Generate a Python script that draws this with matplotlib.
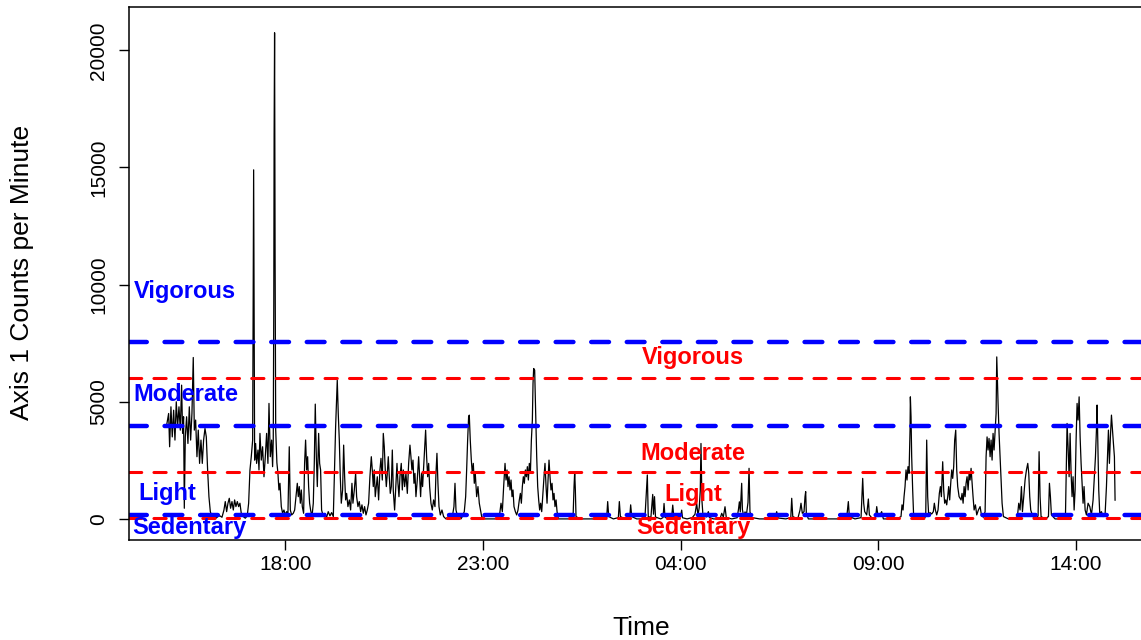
import matplotlib.pyplot as plt

# Axis 1 counts per minute.
# time is minutes after the start of recording (15:00)
minutes = [
    0, 2.6, 4.1, 6.1, 8.1, 10.2, 12.2, 14.2, 16.2, 18.3, 20.3, 22.3, 23.8, 25.3, 26.4, 27.9,
    29.9, 31.9, 34, 36, 38, 40, 41.6, 43.6, 45.6, 47.6, 49.6, 51.7, 53.7, 55.7, 57.8, 59.8,
    61.8, 63.8, 65.9, 68.4, 71.4, 74.5, 77.5, 80.5, 83.6, 86.6, 88.6, 90.7, 92.7, 94.7, 96.7,
    98.8, 100.8, 102.8, 104.8, 106.9, 108.9, 110.9, 112.9, 116, 119, 122, 124.1, 126.1, 128.1,
    130.2, 131.7, 133.2, 134.7, 136.2, 138.3, 139.8, 141.3, 143.3, 145.3, 147.4, 149.4, 151.4,
    153.4, 155, 157, 159, 160.5, 161.5, 162.3, 162.8, 163.5, 164.3, 165.2, 167, 168.6, 170.1,
    171.7, 173.7, 175.7, 177.7, 179.8, 181.8, 183.8, 185.8, 187.4, 189.4, 191.9, 194, 196, 198,
    199.5, 201, 202.6, 204.1, 205.6, 207.6, 209.1, 210.6, 212.2, 213.7, 215.2, 216.7, 218.2,
    220.3, 222.3, 223.8, 225.3, 226.9, 228.4, 230.4, 231.9,
    233.4, 234.9, 237.5, 240, 242.5, 245, 247.6, 250.1, 252.7, 254.7, 256.2, 257.7, 258.7,
    260.2, 261.8, 263.3, 264.8, 266.8, 268.4, 269.9, 271.4, 272.9, 274.9, 277, 279, 281, 282.5,
    284.6, 286.6, 288.1, 290.1, 292.1, 294.2, 296.2, 298.2, 300.2, 302.3, 304.3, 306.3, 308.3,
    310.4, 311.9, 313.4, 314.9, 316.4, 318, 319.5, 321.5, 323.5, 325.1, 327.1, 328.6, 330.1,
    331.6, 333.2, 334.7, 336.2, 337.7, 339.2, 340.8, 342.3, 343.8, 345.8, 347.8, 349.4, 350.9,
    352.4, 353.9, 355.9, 357.5, 359, 361, 363, 365.1, 367.1, 369.1, 370.6, 372.1, 373.7, 375.2,
    376.7, 378.2, 380.2, 382.3, 383.8, 385.3, 386.8, 388.3, 389.9, 391.4, 392.9, 394.4, 396,
    397.5, 399, 401, 403, 405, 407.1, 408.6, 410.1, 411.6, 413.2, 415.2, 417.7, 420.2, 423.8,
    427.3, 430.9, 433.9, 435.9, 437.5, 439, 441.5, 444, 446.6, 449.1, 451.6, 453.7, 455.2,
    456.7, 458.2, 459.2, 460.7, 462.3, 463.8, 465.3, 466.8, 468.3, 470.4, 472.4, 474.4,
    478, 483.1, 490.7, 498.3, 504.9, 507.4, 509.4, 511.4, 513.5, 515, 516.5, 518, 519.5, 521.1,
    522.6, 524.1, 525.6, 527.1, 529.2, 531.2, 533.2, 535.2, 536.8, 538.3, 539.8, 541.3, 542.8,
    544.4, 545.9, 547.4, 548.9, 550.4, 552, 553.5, 555, 556, 557, 558.5, 559.5, 560.6, 561.6,
    563.1, 564.6, 566.1, 567.6, 569.2, 570.7, 572.7, 574.2, 575.8, 577.3, 578.8, 580.3, 581.8,
    583.3, 584.9, 586.4, 587.9, 589.4, 591, 592.5, 594.5, 602.1, 609.7, 616.8, 618.3, 619.3,
    620.3, 621.3, 627.4, 637.5, 647.6, 657.8, 667.9, 669.4, 671, 678, 685.6, 687.1, 688.7,
    695.7, 702.8, 704.3, 705.9, 713.5,
    720, 726, 729.6, 731, 735, 737.8, 739, 740.5, 742, 750, 753.5, 755, 756.5, 762, 766.5,
    768.2, 770, 776, 780, 781.8, 783, 790, 798, 802, 804.6, 806.5, 808.5, 810, 811.1, 812.5,
    814, 817.2, 819, 822.3, 824, 830, 840, 842.6, 845, 847.6, 849.5, 858, 866, 868, 869.4,
    870.8, 872.9, 874, 876, 878, 880, 882.5, 884.1, 885.5, 888, 900, 915, 924, 926.1, 928, 940,
    947.5, 948.9, 950.5, 958,
    961.5, 963, 965, 967.6, 969.1, 970.1, 971.1, 974.2, 981.8, 991.9, 1002, 1012.1, 1022.3,
    1032.4, 1034.9, 1036.4, 1045, 1054.2, 1056.7, 1058.2, 1059.7, 1062.8, 1065.3, 1066.8,
    1071.9, 1076.4, 1078, 1080, 1083, 1085.5, 1088.1, 1098.2, 1108.3, 1114.9, 1116.4, 1118,
    1119.5, 1121, 1122.5, 1124, 1125.5, 1127.1, 1128.6, 1129.1, 1130.1, 1131.1, 1132.6, 1134.1,
    1141.2, 1148.8, 1152.4, 1153.9, 1155.4, 1156.9, 1159, 1161.5, 1164, 1165.5, 1167.1, 1169.1,
    1171.1, 1173.1, 1174.7, 1176.2, 1178.2, 1179.7, 1181.2, 1182.8, 1184.3, 1185.8, 1187.3,
    1188.8, 1190.4, 1191.9, 1193.4, 1194.9, 1196.4, 1198, 1199.5, 1201, 1203.1,
    1206.1, 1207.6, 1209.2, 1210.7, 1212.2, 1213.7, 1215.2, 1216.8, 1218.3, 1219.8, 1221.3,
    1222.8, 1224.3, 1225.9, 1227.9, 1229.9, 1232.4, 1235, 1237, 1240, 1242.6, 1244.1, 1245.6,
    1247.1, 1248.6, 1250.2, 1251.7, 1253.2, 1254.7, 1256.2, 1257.8, 1259.3, 1260.3, 1261.3,
    1262.3, 1263.8, 1265.4, 1266.9, 1268.4, 1270.4, 1278, 1285.6, 1291.7, 1293.7, 1295.7,
    1297.8, 1299.3, 1301.3, 1303.3, 1305.4, 1307.4, 1308.9, 1310.4, 1311.9, 1315, 1320, 1323.1,
    1324.6, 1326.1, 1327.6, 1333.7, 1338.8, 1340.3, 1341.8, 1343.3, 1348.9, 1356.5, 1364.6,
    1366.1, 1367.1, 1368.6, 1370.2, 1371.7, 1373.2, 1374.7, 1376.2, 1377.8, 1379.3, 1380.8,
    1382.3, 1383.8, 1385.4, 1386.9, 1388.4, 1389.9, 1391.4, 1392.9, 1394.5, 1396.5, 1399,
    1401.6, 1404.1, 1406.6, 1408.6, 1410.2, 1411.7, 1412.7, 1413.7, 1415.2, 1416.7, 1419.3,
    1421.8, 1424.8, 1426.9, 1428.4, 1429.9, 1431.4, 1432.9, 1434.5, 1436, 1437.5, 1439, 1440,
]
counts = [
    4075, 4500, 3080, 4785, 3500, 4640, 3365, 5000, 3930, 4785, 3790, 5710, 3650, 4360, 455, 3500,
    4360, 3220, 4785, 3365, 4500, 6890, 3790, 4220, 2655, 3790, 2370, 3365, 2370, 3365, 3860, 3500,
    2090, 950, 310, 100, 170, 30, 100, 130, 70, 380, 740, 310, 670, 880, 455,
    740, 380, 810, 525, 740, 525, 670, 240, 100, 30, 130, 670, 2090, 2655,
    3365, 14900, 2510, 3220, 2370, 2940, 2090, 3650, 2510, 3080, 1800, 2655, 3650,
    2370, 4930, 2655, 3365, 2230, 3400, 9200, 16400, 20750, 11000, 3800, 2400, 1945, 1235,
    1520, 525, 240, 380, 170, 310, 240, 3080, 380, 170, 240, 380, 950, 1520,
    950, 1380, 670, 1235, 525, 240, 2370, 3365, 2090, 2655, 1380, 670, 380,
    100, 670, 2370, 4900, 2655, 1380, 3650, 2370,
    2090, 380, 100, 240, 70, 310, 130, 270, 100, 2370, 3930, 5210, 5920,
    4500, 3365, 1800, 670, 1235, 3150, 1800, 810, 1090, 525, 810, 380, 1520, 670,
    1235, 1945, 950, 525, 740, 310, 600, 240, 525, 170, 380, 670, 1800,
    2655, 2090, 1380, 2090, 950, 1380, 1800, 810, 2090, 2585, 1660, 3650, 3080,
    2090, 1380, 1945, 2655, 1800, 1090, 1380, 2940, 1200, 380, 1520, 2370, 1520,
    950, 1800, 2370, 1235, 2090, 1380, 1945, 1090, 2370, 3150, 2655, 2090, 2510, 1520,
    1945, 950, 1660, 2655, 1800, 950, 1945, 1380, 2230, 3080, 3790, 2655, 1800,
    2370, 1380, 670, 380, 810, 525, 1945, 2800, 1520, 525, 170, 380, 100, 0,
    100, 0, 170, 525, 1520, 380, 100, 170, 0, 130, 310, 950, 2090,
    3365, 4360, 4430, 3365, 2510, 1945, 2370, 1520, 1945, 950, 1380, 670,
    100, 0, 0, 0, 100, 670, 310, 1380, 2370, 1660, 2090, 1380, 1800, 1235,
    1660, 950, 1235, 525, 310, 170, 380, 810, 1090, 670, 1380, 1800, 1520,
    2090, 1800, 2230, 1660, 2370, 1945, 3365, 4220, 5780, 6420, 6350, 5210, 3930, 2655,
    1380, 810, 380, 670, 310, 950, 1800, 2370, 1380, 670, 1660, 2510, 1800,
    1235, 1520, 810, 1090, 525, 810, 310, 0, 0, 0, 55, 1380, 2015,
    1235, 100, 0, 0, 0, 0, 55, 740, 100, 0, 55, 740, 100,
    0, 55, 600, 100, 0,
    0, 55, 1875, 100, 60, 1045, 200, 950, 80, 0, 60, 660, 70, 0, 60,
    590, 50, 0, 100, 375, 50, 0, 60, 200, 660, 150, 500, 1200, 3220, 800,
    200, 240, 80, 310, 60, 0, 0, 240, 80, 520, 60, 0, 50, 400, 730,
    300, 1520, 400, 100, 300, 150, 700, 2160, 300, 60, 0, 0, 60, 310, 40, 0,
    60, 880, 100, 0,
    380, 670, 240, 310, 950, 1165, 240, 0, 0, 0, 0, 0, 0,
    55, 740, 100, 0, 55, 1730, 670, 310, 170, 850, 170,
    0, 70, 525, 100, 170, 310, 0, 0, 0, 100, 600, 380,
    950, 1380, 2090, 1660, 2230, 1945, 3790, 5210, 4360, 2655, 1235, 100,
    0, 0, 100, 3365, 950, 170, 270, 210, 310, 670, 380, 170,
    380, 1090, 1380, 950, 2440, 1235, 670, 810, 600, 950, 1380,
    810, 1520, 2090, 1730, 2230, 3365, 3790, 2090, 1380, 950,
    810, 1090, 670, 1380, 950, 1520, 1800, 1235, 1945, 1660, 2160,
    1520, 950, 380, 600, 170, 380, 525, 170, 70, 310, 2655, 3500,
    2940, 3435, 2655, 3365, 2510, 3650, 2940, 3790, 4500, 6915, 5920,
    4930, 3650, 2655, 1660, 670, 100, 0, 0, 100, 670, 380,
    1380, 310, 950, 1660, 2090, 2370, 1945, 950, 380, 100, 0, 130,
    2870, 950, 100, 0, 100, 1520, 950, 170, 0, 0, 55,
    2370, 4075, 3080, 1800, 3650, 1945, 950, 1800, 380, 1235, 3365,
    4930, 4220, 5210, 3500, 2370, 1520, 670, 1380, 380, 170, 670,
    525, 170, 810, 1800, 2655, 3790, 4860, 3365, 1235, 240, 310,
    100, 170, 1380, 2655, 3790, 2370, 3500, 4430, 3790, 3220, 2655, 800,
]

# intensity cut-points (counts per minute) of the two classification schemes
blue_cuts = [150, 3960, 7560]
red_cuts = [50, 2000, 6000]
intensity_labels = ['Sedentary', 'Light', 'Moderate', 'Vigorous']

tick_times = ['18:00', '23:00', '04:00', '09:00', '14:00']
start_hour = 15

plt.rcParams['font.family'] = ['Liberation Sans', 'DejaVu Sans']

W, H = 1141, 640
fig = plt.figure(figsize=(W / 100, H / 100), dpi=100)
# the plot region runs past the right edge of the picture, as in the reference
ax = fig.add_axes([129 / W, 100 / H, 1024 / W, 533 / H])

ax.plot(minutes, counts, color='black', lw=0.9)

for c in blue_cuts:
    ax.axhline(c, color='#0000FF', lw=3.2, linestyle=(0, (4, 4)),
               dash_capstyle='round')
for c in red_cuts:
    ax.axhline(c, color='#FF0000', lw=2.2, linestyle=(0, (4, 4)),
               dash_capstyle='round')

# labels of the cut-point bands
blue_pos = [(34, -350), (1, 1100), (29, 5290), (27, 9690)]
red_pos = [(799, -350), (800, 1060), (799, 2810), (799, 6900)]
for lab, (xp, yp) in zip(intensity_labels, blue_pos):
    ax.text(xp, yp, lab, color='#0000FF', fontsize=17, fontweight='bold',
            ha='center', va='center')
for lab, (xp, yp) in zip(intensity_labels, red_pos):
    ax.text(xp, yp, lab, color='#FF0000', fontsize=17, fontweight='bold',
            ha='center', va='center')

ax.set_xlim(-57.6, 1497.6)
ax.set_ylim(-900, 21850)

tick_pos = [((int(t[:2]) - start_hour) % 24) * 60 for t in tick_times]
ax.set_xticks(tick_pos)
ax.set_xticklabels(tick_times)
ax.set_yticks([0, 5000, 10000, 15000, 20000])
ax.set_yticklabels(['0', '5000', '10000', '15000', '20000'], rotation=90, va='center')
ax.tick_params(direction='out', length=7, width=1, labelsize=15, pad=8)
ax.tick_params(axis='x', length=7, pad=4)

for s in ax.spines.values():
    s.set_linewidth(1.1)

ax.text(0.5, -0.165, 'Time', transform=ax.transAxes, ha='center', va='center',
        fontsize=19)
fig.text(22 / W, 1 - 272 / H, 'Axis 1 Counts per Minute', rotation=90,
         ha='center', va='center', fontsize=19)

fig.savefig('out.png', dpi=100)
